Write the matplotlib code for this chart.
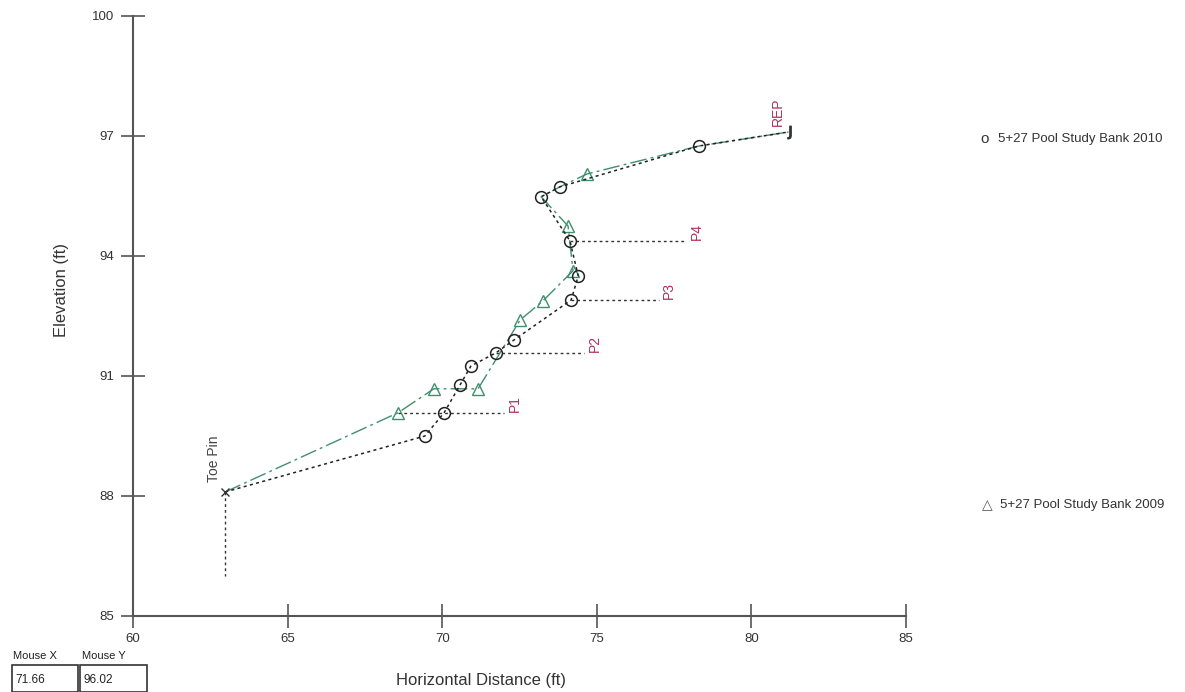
import matplotlib
matplotlib.use("Agg")
import matplotlib.pyplot as plt
from matplotlib.patches import Rectangle

plt.rcParams['font.family'] = ['Liberation Sans', 'DejaVu Sans']

# --- data ---
x2010 = [62.98, 69.44, 70.06, 70.58, 70.93, 71.74, 72.32, 74.17, 74.40, 74.13, 73.20, 73.81, 78.30, 81.20]
y2010 = [88.10, 89.50, 90.08, 90.78, 91.25, 91.58, 91.90, 92.90, 93.50, 94.38, 95.48, 95.73, 96.75, 97.10]
x2009 = [62.98, 68.57, 69.73, 71.16, 72.52, 73.26, 74.23, 74.07, 73.20, 73.81, 74.68, 78.30, 81.20]
y2009 = [88.10, 90.08, 90.68, 90.68, 92.40, 92.88, 93.63, 94.75, 95.48, 95.73, 96.05, 96.75, 97.10]
tri_idx = [1, 2, 3, 4, 5, 6, 7, 10]

pin_labels = ["P1", "P2", "P3", "P4"]
pin_y = [90.08, 91.58, 92.90, 94.38]
pin_x0 = [68.57, 71.74, 74.17, 74.13]
pin_x1 = [72.0, 74.6, 77.0, 77.9]

toe_x, toe_y0, toe_y1 = 62.98, 88.10, 86.0
rep_x, rep_y = 81.2, 97.1

xticks = [60, 65, 70, 75, 80, 85]
yticks = [85, 88, 91, 94, 97, 100]
series_names = ["5+27 Pool Study Bank 2010", "5+27 Pool Study Bank 2009"]

green = "#3f8f6f"
red = "#b0305a"
axcol = "#555555"

fig = plt.figure(figsize=(11.85, 6.92), dpi=100)
ax = fig.add_axes([133/1185, 1-616/692, (906-133)/1185, (616-16)/692])

# 2009 line (green dash-dot)
ax.plot(x2009, y2009, color=green, lw=1.0, dashes=(12, 3, 2, 3), zorder=2)
ax.plot([x2009[i] for i in tri_idx], [y2009[i] for i in tri_idx], linestyle="none",
        marker="^", markersize=9, markerfacecolor="none", markeredgecolor=green, mew=1.0, zorder=3)

# 2010 line (black dotted)
ax.plot(x2010, y2010, color="#222222", lw=1.1, dashes=(2, 2.2), zorder=4)
ax.plot(x2010[1:-1], y2010[1:-1], linestyle="none", marker="o", markersize=8.5,
        markerfacecolor="none", markeredgecolor="#222222", mew=1.1, zorder=5)

# pins
for lab, py, px0, px1 in zip(pin_labels, pin_y, pin_x0, pin_x1):
    ax.plot([px0, px1], [py, py], color="#333333", lw=1.0, dashes=(2, 2.2), zorder=1)
    ax.text(px1 + 0.12, py + 0.02, lab, rotation=90, color=red, fontsize=10,
            ha="left", va="bottom")

ax.plot([toe_x, toe_x], [toe_y0, toe_y1], color="#333333", lw=1.0, dashes=(2, 2.2), zorder=1)
ax.plot([toe_x], [toe_y0], marker="x", color="#333333", markersize=6, zorder=6)
ax.text(toe_x - 0.12, toe_y0 + 0.25, "Toe Pin", rotation=90, color="#444444", fontsize=10,
        ha="right", va="bottom")

ax.plot([rep_x], [rep_y], marker=r"$\mathsf{J}$", color="#333333", markersize=9, zorder=6)
ax.text(rep_x - 0.12, rep_y + 0.15, "REP", rotation=90, color=red, fontsize=10,
        ha="right", va="bottom")

ax.set_xlim(60, 85)
ax.set_ylim(85, 100)
ax.set_xticks(xticks)
ax.set_yticks(yticks)
ax.tick_params(direction="inout", length=17, width=1.2, color=axcol, labelsize=9.5,
               labelcolor="#333333")
ax.tick_params(axis="y", pad=5)
ax.tick_params(axis="x", pad=4)
for s in ["top", "right"]:
    ax.spines[s].set_visible(False)
for s in ["left", "bottom"]:
    ax.spines[s].set_color(axcol)
    ax.spines[s].set_linewidth(1.5)

fig.text(62/1185, 1-290/692, "Elevation (ft)", rotation=90, ha="center", va="center",
         fontsize=12, color="#333333")
fig.text(481/1185, 1-680/692, "Horizontal Distance (ft)", ha="center", va="center",
         fontsize=12, color="#333333")

# legend entries
fig.text(985/1185, 1-139/692, "o", ha="center", va="center", fontsize=11, color="#333333")
fig.text(998/1185, 1-139/692, series_names[0], ha="left", va="center", fontsize=9.5, color="#333333")
fig.text(987/1185, 1-505/692, "\u25b3", ha="center", va="center", fontsize=10,
         color="#555555", family=['DejaVu Sans'])
fig.text(1000/1185, 1-505/692, series_names[1], ha="left", va="center", fontsize=9.5, color="#333333")

# mouse readout box
fig.text(13/1185, 1-656/692, "Mouse X", fontsize=8, ha="left", va="center", color="#222222")
fig.text(82/1185, 1-656/692, "Mouse Y", fontsize=8, ha="left", va="center", color="#222222")
for x0, w in [(12, 66), (80, 67)]:
    fig.add_artist(Rectangle((x0/1185, 1-692/692), w/1185, 27/692, transform=fig.transFigure,
                             facecolor="white", edgecolor="#333333", lw=1.2))
fig.text(15/1185, 1-680/692, "71.66", fontsize=8.5, ha="left", va="center", color="#222222")
fig.text(84/1185, 1-680/692, "96.02", fontsize=8.5, ha="left", va="center", color="#222222")

fig.savefig("out.png", dpi=100)
